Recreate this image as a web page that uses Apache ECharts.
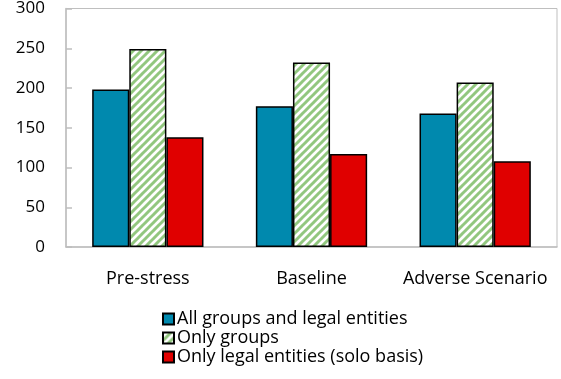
<!DOCTYPE html>
<html>
<head>
<meta charset="utf-8">
<script src="https://cdn.jsdelivr.net/npm/echarts@6/dist/echarts.min.js"></script>
<style>
  html, body { margin: 0; padding: 0; background: #fff; }
  #chart { width: 561px; height: 379px; }
</style>
</head>
<body>
<div id="chart"></div>
<script>
// Scenario categories and series values
const categories = ['Pre-stress', 'Baseline', 'Adverse Scenario'];
const seriesNames = ['All groups and legal entities', 'Only groups', 'Only legal entities (solo basis)'];
const allGroupsAndEntities = [198, 177, 168];
const onlyGroups = [249, 232, 207];
const onlyLegalEntities = [138, 117, 108];
const yTicks = [0, 50, 100, 150, 200, 250, 300];

// Diagonal green hatch used for the "Only groups" bars
function makeHatch() {
  const size = 8;
  const c = document.createElement('canvas');
  c.width = size; c.height = size;
  const ctx = c.getContext('2d');
  ctx.fillStyle = '#ffffff';
  ctx.fillRect(0, 0, size, size);
  ctx.strokeStyle = '#92c77f';
  ctx.lineWidth = 3;
  ctx.beginPath();
  for (let k = -1; k <= 1; k++) {
    ctx.moveTo(k * size - 1, size + 1);
    ctx.lineTo(k * size + size + 1, -1);
  }
  ctx.stroke();
  return c;
}
const hatch = { image: makeHatch(), repeat: 'repeat' };

const font = 'Open Sans';
const chart = echarts.init(document.getElementById('chart'), null, { renderer: 'canvas' });

const barStyle = (color) => ({ color: color, borderColor: '#000', borderWidth: 1.5 });

chart.setOption({
  animation: false,
  textStyle: { fontFamily: font },
  grid: {
    left: 66, right: 4, top: 8, bottom: 132,
    show: true, borderColor: '#bfbfbf', borderWidth: 1
  },
  legend: {
    orient: 'vertical',
    left: 157, top: 305,
    itemWidth: 11, itemHeight: 11, itemGap: 1,
    icon: 'rect',
    textStyle: { fontFamily: font, fontSize: 18, color: '#000', padding: [0, 0, 0, -2] },
    data: seriesNames
  },
  xAxis: {
    type: 'category',
    data: categories,
    axisLine: { lineStyle: { color: '#bfbfbf', width: 1.5 } },
    axisTick: { show: false },
    axisLabel: { interval: 0, fontFamily: font, fontSize: 18, color: '#000', margin: 23 }
  },
  yAxis: {
    type: 'value',
    min: yTicks[0], max: yTicks[yTicks.length - 1], interval: 50,
    splitLine: { show: false },
    axisLine: { show: true, lineStyle: { color: '#bfbfbf', width: 1.5 } },
    axisTick: { show: true, inside: true, length: 6, lineStyle: { color: '#bfbfbf', width: 1.5 } },
    axisLabel: { fontFamily: font, fontSize: 17, color: '#000', margin: 21 }
  },
  series: [
    { name: seriesNames[0], type: 'bar', data: allGroupsAndEntities, barGap: '0%', barCategoryGap: '32%', itemStyle: barStyle('#0089ae') },
    { name: seriesNames[1], type: 'bar', data: onlyGroups, barGap: '0%', barCategoryGap: '32%', itemStyle: barStyle(hatch) },
    { name: seriesNames[2], type: 'bar', data: onlyLegalEntities, barGap: '0%', barCategoryGap: '32%', itemStyle: barStyle('#e00000') }
  ]
});
</script>
</body>
</html>
